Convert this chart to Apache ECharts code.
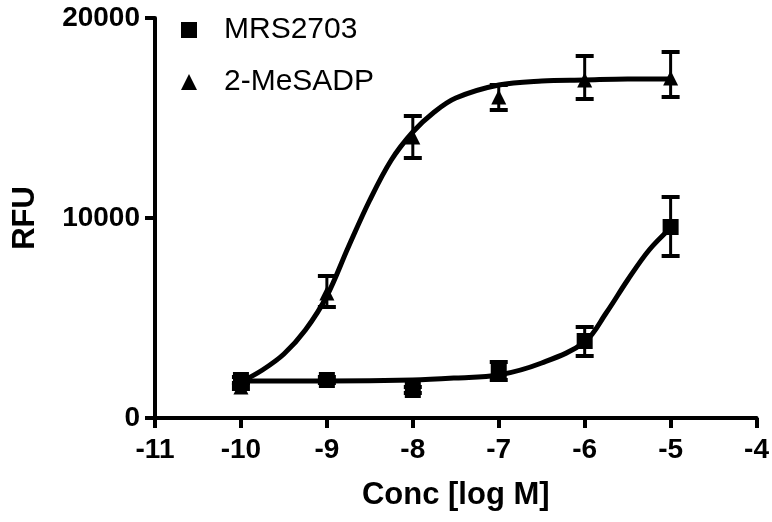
<!DOCTYPE html>
<html>
<head>
<meta charset="utf-8">
<script src="https://cdn.jsdelivr.net/npm/echarts@6/dist/echarts.min.js"></script>
<style>
  html, body { margin: 0; padding: 0; background: #fff; }
  #chart { width: 772px; height: 522px; }
</style>
</head>
<body>
<div id="chart"></div>
<script>
// measured points (log M)
var conc = [-10, -9, -8, -7, -6, -5];
var mrsMean = [1900, 1900, 1400, 2300, 3850, 9550];
var mrsLow = [1750, 1750, 1250, 1900, 3100, 8100];
var mrsHigh = [2050, 2050, 1550, 2800, 4550, 11050];
var meMean = [1550, 6250, 14050, 16050, 16900, 17000];
var meLow = [1450, 5550, 13000, 15400, 15950, 16050];
var meHigh = [1650, 7100, 15100, 16650, 18100, 18300];

// fitted curves
var meCurveX = [-10, -9.75, -9.5, -9.25, -9, -8.75, -8.5, -8.25, -8, -7.75, -7.5, -7, -6.5, -6, -5.5, -5];
var meCurveY = [1800, 2400, 3200, 4400, 6100, 8550, 10900, 12900, 14300, 15300, 16000, 16650, 16850, 16900, 16950, 16950];
var mrsCurveX = [-10, -9, -8, -7.5, -7, -6.5, -6, -5.75, -5.5, -5.25, -5];
var mrsCurveY = [1850, 1850, 1900, 2000, 2150, 2750, 3800, 5250, 6900, 8400, 9500];

var FONT = '"Liberation Sans", Arial, sans-serif';

function zip(a, b) {
  return a.map(function (v, i) { return [v, b[i]]; });
}
function zip3(a, b, c) {
  return a.map(function (v, i) { return [v, b[i], c[i]]; });
}

// vertical error bar with caps
function errBars(params, api) {
  var x = api.value(0);
  var top = api.coord([x, api.value(2)]);
  var bot = api.coord([x, api.value(1)]);
  var hw = 9;
  var cap = { stroke: '#000', lineWidth: 4 };
  return {
    type: 'group',
    children: [
      { type: 'line', shape: { x1: top[0], y1: top[1], x2: bot[0], y2: bot[1] }, style: { stroke: '#000', lineWidth: 3 } },
      { type: 'line', shape: { x1: top[0] - hw, y1: top[1], x2: top[0] + hw, y2: top[1] }, style: cap },
      { type: 'line', shape: { x1: bot[0] - hw, y1: bot[1], x2: bot[0] + hw, y2: bot[1] }, style: cap }
    ]
  };
}

var axisCommon = {
  axisLine: { show: true, lineStyle: { color: '#000', width: 4 } },
  axisTick: { show: true, inside: false, length: 10, lineStyle: { color: '#000', width: 4 } },
  splitLine: { show: false },
  axisLabel: { color: '#000', fontSize: 28, fontWeight: 'bold', fontFamily: FONT, formatter: function (v) { return String(v); } },
  nameTextStyle: { color: '#000', fontSize: 31, fontWeight: 'bold', fontFamily: FONT },
  nameLocation: 'middle'
};

var option = {
  animation: false,
  backgroundColor: '#fff',
  grid: { left: 155, right: 14, top: 18, bottom: 104, containLabel: false },
  legend: {
    orient: 'vertical',
    left: 176,
    top: 10,
    itemWidth: 16,
    itemHeight: 16,
    itemGap: 22,
    data: [
      { name: 'MRS2703', icon: 'rect' },
      { name: '2-MeSADP', icon: 'triangle' }
    ],
    itemStyle: { opacity: 1 },
    textStyle: { color: '#000', fontSize: 30, fontFamily: FONT, padding: [0, 0, 0, 22] }
  },
  xAxis: Object.assign({}, axisCommon, {
    type: 'value',
    min: -11,
    max: -4,
    interval: 1,
    name: 'Conc [log M]',
    nameGap: 62,
    axisLabel: Object.assign({}, axisCommon.axisLabel, { margin: 18 })
  }),
  yAxis: Object.assign({}, axisCommon, {
    type: 'value',
    min: 0,
    max: 20000,
    interval: 10000,
    name: 'RFU',
    nameGap: 114,
    axisLabel: Object.assign({}, axisCommon.axisLabel, { margin: 15 })
  }),
  series: [
    {
      name: 'MRS2703 fit', type: 'line', smooth: 0.35, symbol: 'none',
      lineStyle: { color: '#000', width: 5 }, data: zip(mrsCurveX, mrsCurveY), z: 2
    },
    {
      name: '2-MeSADP fit', type: 'line', smooth: 0.35, symbol: 'none',
      lineStyle: { color: '#000', width: 5 }, data: zip(meCurveX, meCurveY), z: 2
    },
    {
      type: 'custom', renderItem: errBars, data: zip3(conc, mrsLow, mrsHigh), z: 3
    },
    {
      type: 'custom', renderItem: errBars, data: zip3(conc, meLow, meHigh), z: 3
    },
    {
      name: 'MRS2703', type: 'scatter', symbol: 'rect', symbolSize: 16,
      itemStyle: { color: '#000', opacity: 1 }, data: zip(conc, mrsMean), z: 4
    },
    {
      name: '2-MeSADP', type: 'scatter', symbol: 'triangle', symbolSize: 15,
      itemStyle: { color: '#000', opacity: 1 }, data: zip(conc, meMean), z: 4
    }
  ]
};

var myChart = echarts.init(document.getElementById('chart'));
myChart.setOption(option);
</script>
</body>
</html>
